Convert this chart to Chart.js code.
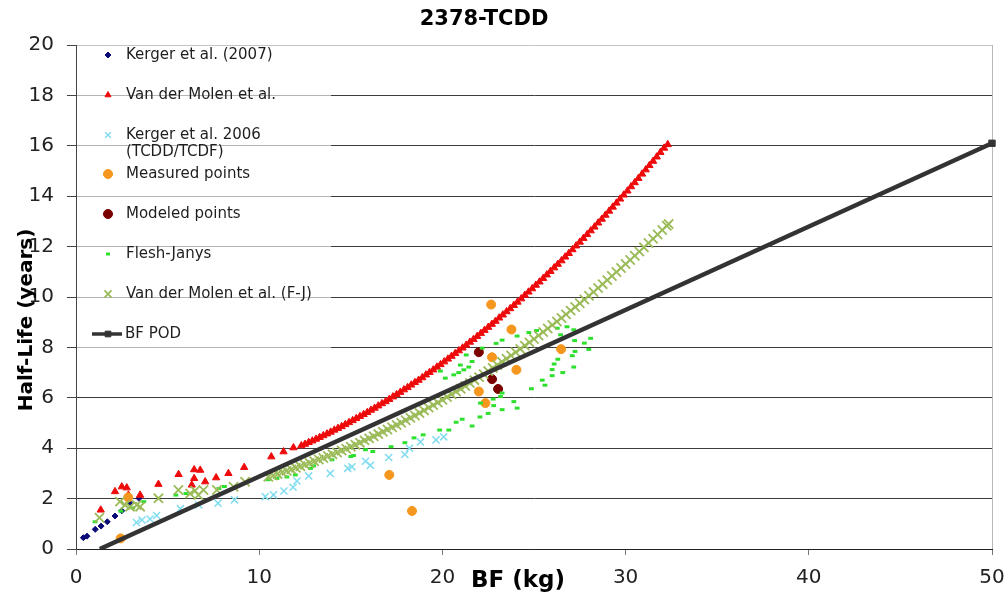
<!DOCTYPE html>
<html>
<head>
<meta charset="utf-8">
<title>2378-TCDD</title>
<script src="https://cdn.jsdelivr.net/npm/chart.js@4.4.1/dist/chart.umd.min.js"></script>
<style>
  html, body { margin: 0; padding: 0; background: #fff; }
  #wrap { position: relative; width: 1006px; height: 601px; }
</style>
</head>
<body>
<div id="wrap"><canvas id="chart"></canvas></div>
<script>
// values, as [BF (kg), half-life (years)]
const kerger2007 = [[0.4,0.45],[0.6,0.51],[1.05,0.78],[1.37,0.91],[1.71,1.08],[2.13,1.31],[2.5,1.52],[2.95,1.81],[3.44,2.01]]

const vanDerMolen = [
    [1.35,1.55],[2.13,2.28],[2.5,2.47],[2.77,2.43],[2.86,2.14],[3.5,2.14],[4.5,2.57],[5.6,2.96],[6.32,2.54],
    [6.45,2.8],[6.45,3.15],[6.78,3.13],[7.05,2.67],[7.65,2.83],[8.32,3.0],[9.18,3.24],[10.66,3.66],[11.33,3.86],[11.87,4.02],
    [12.3,4.10],[12.5,4.16],[12.7,4.23],[12.9,4.29],[13.1,4.36],[13.3,4.43],[13.5,4.50],[13.7,4.57],[13.9,4.64],[14.1,4.72],
    [14.3,4.79],[14.5,4.86],[14.7,4.94],[14.9,5.02],[15.1,5.10],[15.3,5.18],[15.5,5.26],[15.7,5.34],[15.9,5.42],[16.1,5.51],
    [16.3,5.59],[16.5,5.68],[16.7,5.77],[16.9,5.85],[17.1,5.94],[17.3,6.04],[17.5,6.13],[17.7,6.22],[17.9,6.32],[18.1,6.41],
    [18.3,6.51],[18.5,6.61],[18.7,6.70],[18.9,6.80],[19.1,6.91],[19.3,7.01],[19.5,7.11],[19.7,7.22],[19.9,7.32],[20.1,7.43],
    [20.3,7.54],[20.5,7.65],[20.7,7.76],[20.9,7.87],[21.1,7.98],[21.3,8.09],[21.5,8.21],[21.7,8.32],[21.9,8.44],[22.1,8.56],
    [22.3,8.68],[22.5,8.80],[22.7,8.92],[22.9,9.04],[23.1,9.17],[23.3,9.29],[23.5,9.42],[23.7,9.54],[23.9,9.67],[24.1,9.80],
    [24.3,9.93],[24.5,10.07],[24.7,10.20],[24.9,10.33],[25.1,10.47],[25.3,10.60],[25.5,10.74],[25.7,10.88],[25.9,11.02],[26.1,11.16],
    [26.3,11.30],[26.5,11.44],[26.7,11.59],[26.9,11.73],[27.1,11.88],[27.3,12.03],[27.5,12.18],[27.7,12.33],[27.9,12.48],[28.1,12.63],
    [28.3,12.78],[28.5,12.94],[28.7,13.09],[28.9,13.25],[29.1,13.41],[29.3,13.57],[29.5,13.73],[29.7,13.89],[29.9,14.05],[30.1,14.21],
    [30.3,14.38],[30.5,14.54],[30.7,14.71],[30.9,14.88],[31.1,15.05],[31.3,15.22],[31.5,15.39],[31.7,15.56],[31.9,15.74],[32.1,15.91],
    [32.3,16.05]
]

const kerger2006 = [
    [3.3,1.05],[3.6,1.15],[4.04,1.19],[4.4,1.33],[5.7,1.6],[6.7,1.75],[7.75,1.82],[8.65,1.95],[10.33,2.08],[10.78,2.15],
    [11.35,2.3],[11.85,2.45],[12.06,2.7],[12.7,2.9],[13.88,3.0],[14.83,3.2],[15.06,3.26],[15.8,3.48],[16.07,3.32],[17.07,3.63],
    [17.95,3.75],[18.2,4.0],[18.8,4.25],[19.65,4.33],[20.07,4.45]
]

const measured = [[2.44,0.42],[2.85,2.05],[17.1,2.94],[18.34,1.51],[21.99,6.25],[22.35,5.79],[22.66,9.7],[22.71,7.61],[23.77,8.71],[24.04,7.11],[26.48,7.93]]

const modeled = [[21.99,7.81],[22.71,6.74],[23.04,6.35]]

const fleshJanys = [
    [1.04,1.08],[2.45,1.5],[3.1,1.63],[3.7,1.88],[5.45,2.14],[6.0,2.2],[7.8,2.4],[8.1,2.48],[10.5,2.75],[10.97,2.8],
    [11.51,2.86],[11.97,2.94],[12.8,3.2],[12.97,3.3],[13.97,3.54],[15.0,3.67],[15.15,3.71],[15.8,3.94],[16.2,3.87],[17.2,4.06],
    [17.95,4.22],[18.45,4.41],[18.95,4.53],[19.85,4.72],[20.35,4.72],[20.75,5.03],[21.08,5.15],[21.62,4.88],[22.05,5.24],[22.5,5.38],
    [23.26,5.53],[22.8,5.69],[22.77,5.95],[23.17,6.05],[23.9,5.85],[24.08,5.59],[23.26,6.19],[22.08,5.79],
    [19.89,7.06],[20.16,6.78],[20.62,6.91],[20.89,7.0],[20.98,7.3],[21.17,7.11],[21.44,7.22],[21.62,7.44],[21.3,7.7],
    [22.17,7.97],[22.93,8.16],[23.26,8.29],[24.08,8.45],[24.72,8.59],[25.14,8.67],[26.27,8.76],[26.8,8.82],[27.17,8.7],
    [26.45,8.5],[27.22,8.27],[27.75,8.17],[28.09,8.36],[27.99,7.92],[27.24,7.84],[27.09,7.67],[26.3,7.53],[26.1,7.34],
    [25.99,7.12],[26.57,7.0],[27.17,7.22],[25.45,6.7],[25.6,6.5],[24.86,6.36],[25.99,6.88]
]

const vanDerMolenFJ = [
    [1.28,1.24],[2.4,1.88],[2.68,1.75],[2.95,1.68],[3.32,1.75],[3.5,1.68],[4.5,2.01],[5.59,2.34],[6.23,2.2],[6.5,2.31],
    [6.68,2.14],[6.96,2.34],[7.69,2.34],[8.6,2.47],[9.23,2.67],
    [10.5,2.87],[10.75,2.92],[11.0,2.98],[11.25,3.04],[11.5,3.10],[11.75,3.16],[12.0,3.22],[12.25,3.28],[12.5,3.34],[12.75,3.41],
    [13.0,3.48],[13.25,3.55],[13.5,3.61],[13.75,3.69],[14.0,3.76],[14.25,3.83],[14.5,3.91],[14.75,3.98],[15.0,4.06],[15.25,4.14],
    [15.5,4.22],[15.75,4.31],[16.0,4.39],[16.25,4.47],[16.5,4.56],[16.75,4.65],[17.0,4.74],[17.25,4.83],[17.5,4.92],[17.75,5.01],
    [18.0,5.11],[18.25,5.21],[18.5,5.30],[18.75,5.40],[19.0,5.50],[19.25,5.61],[19.5,5.71],[19.75,5.81],[20.0,5.92],[20.25,6.03],
    [20.5,6.14],[20.75,6.25],[21.0,6.36],[21.25,6.47],[21.5,6.59],[21.75,6.70],[22.0,6.82],[22.25,6.94],[22.5,7.06],[22.75,7.18],
    [23.0,7.30],[23.25,7.43],[23.5,7.55],[23.75,7.68],[24.0,7.81],[24.25,7.94],[24.5,8.07],[24.75,8.20],[25.0,8.33],[25.25,8.47],
    [25.5,8.61],[25.75,8.75],[26.0,8.89],[26.25,9.03],[26.5,9.17],[26.75,9.31],[27.0,9.46],[27.25,9.60],[27.5,9.75],[27.75,9.90],
    [28.0,10.05],[28.25,10.20],[28.5,10.36],[28.75,10.51],[29.0,10.67],[29.25,10.83],[29.5,10.99],[29.75,11.15],[30.0,11.31],[30.25,11.47],
    [30.5,11.64],[30.75,11.80],[31.0,11.97],[31.25,12.14],[31.5,12.31],[31.75,12.48],[32.0,12.66],[32.25,12.83],[32.35,12.9]
]

const bfPod = [[1.3,0],[50,16.1]]

const seriesNames = ['Kerger et al. (2007)', 'Van der Molen et al.', ['Kerger et al. 2006', '(TCDD/TCDF)'],
    'Measured points', 'Modeled points', 'Flesh-Janys', 'Van der Molen et al. (F-J)', 'BF POD']

const xRange = [0, 50]
const yRange = [0, 20]
const xStep = 10
const yStep = 2

const chartTitle = '2378-TCDD'
const xTitle = 'BF (kg)'
const yTitle = 'Half-Life (years)'

const FONT = '"DejaVu Sans", Verdana, sans-serif'

const pts = arr => arr.map(p => ({x: p[0], y: p[1]}))

// one marker look per series, reused by the legend
const looks = [
    {style: 'rectRot', r: 3, color: '#0b0b78', width: 1, legendR: 3},
    {style: 'triangle', r: 4.2, color: '#ee0a0a', width: 1, legendR: 3.5},
    {style: 'crossRot', r: 5, color: '#80dcef', width: 1.5, legendR: 4},
    {style: 'circle', r: 4.5, color: '#f5961e', width: 1, legendR: 4.5},
    {style: 'circle', r: 4.5, color: '#7a0000', width: 1, legendR: 4.5},
    {style: 'line', r: 2.4, color: '#2ee02e', width: 3, legendR: 2},
    {style: 'crossRot', r: 6.5, color: '#9bbb59', width: 1.8, legendR: 5},
    {style: 'rect', r: 4.5, color: '#333333', width: 1, legendR: 4}
]

const seriesData = [kerger2007, vanDerMolen, kerger2006, measured, modeled, fleshJanys, vanDerMolenFJ, bfPod]

const datasets = seriesData.map((d, i) => {
    const lk = looks[i]
    const ds = {
        label: Array.isArray(seriesNames[i]) ? seriesNames[i].join(' ') : seriesNames[i],
        data: pts(d),
        showLine: false,
        pointStyle: lk.style,
        pointRadius: lk.r,
        pointBackgroundColor: lk.color,
        pointBorderColor: lk.color,
        pointBorderWidth: lk.width,
        // later series sit on top, like the original
        order: seriesData.length - 1 - i
    }
    if (i == 7){
        ds.showLine = true
        ds.borderColor = '#333333'
        ds.borderWidth = 4.5
        ds.pointRadius = [0, 4.5]
        // let the end marker stick out past the right edge
        ds.clip = {left: 0, top: 0, right: 8, bottom: 0}
    }
    return ds
})

const decorations = {
    id: 'decorations',
    beforeDatasetsDraw(chart){
        const {ctx, chartArea} = chart
        ctx.save()
        // see-through white box behind the legend
        ctx.fillStyle = 'rgba(255,255,255,0.62)'
        ctx.fillRect(chartArea.left + 1, chartArea.top + 1, 254, 306)
        // thin grey frame on the right
        ctx.strokeStyle = '#b8b8b8'
        ctx.lineWidth = 1
        ctx.beginPath()
        ctx.moveTo(Math.round(chartArea.right) + 0.5, chartArea.top)
        ctx.lineTo(Math.round(chartArea.right) + 0.5, chartArea.bottom)
        ctx.stroke()
        ctx.restore()
    },
    afterDraw(chart){
        const ctx = chart.ctx
        const drawPoint = Chart.helpers.drawPoint
        ctx.save()

        // legend
        const rowY = [55, 95, 135, 174, 214, 254, 294, 334]
        const markX = 108
        const textX = 126
        ctx.font = '15px ' + FONT
        ctx.textBaseline = 'middle'
        ctx.textAlign = 'left'
        rowY.forEach((y, i) => {
            const lk = looks[i]
            ctx.fillStyle = lk.color
            ctx.strokeStyle = lk.color
            ctx.lineWidth = lk.width
            if (i == 7){
                ctx.lineWidth = 3.5
                ctx.beginPath()
                ctx.moveTo(92, y)
                ctx.lineTo(122, y)
                ctx.stroke()
                ctx.lineWidth = 1
            }
            drawPoint(ctx, {pointStyle: lk.style, radius: lk.legendR, rotation: 0, borderWidth: lk.width}, markX, y)
            ctx.fillStyle = '#1e1e1e'
            const name = seriesNames[i]
            if (Array.isArray(name)){
                name.forEach((line, k) => ctx.fillText(line, textX, y + k * 17))
            } else {
                ctx.fillText(name, i == 7 ? 125 : textX, y)
            }
        })

        // titles
        ctx.fillStyle = '#000'
        ctx.textAlign = 'center'
        ctx.textBaseline = 'middle'
        ctx.font = 'bold 21px ' + FONT
        ctx.fillText(chartTitle, 484, 20)
        ctx.font = 'bold 23px ' + FONT
        ctx.fillText(xTitle, 518, 581)
        ctx.translate(27, 320)
        ctx.rotate(-Math.PI / 2)
        ctx.font = 'bold 20px ' + FONT
        ctx.fillText(yTitle, 0, 0)
        ctx.restore()
    }
}

Chart.defaults.font.family = FONT

new Chart(document.getElementById('chart'), {
    type: 'scatter',
    data: {datasets: datasets},
    options: {
        responsive: true,
        maintainAspectRatio: false,
        animation: false,
        events: [],
        layout: {padding: {top: 45, right: 14, bottom: 0, left: 0}},
        plugins: {
            legend: {display: false},
            title: {display: false},
            tooltip: {enabled: false}
        },
        scales: {
            x: {
                type: 'linear',
                min: xRange[0],
                max: xRange[1],
                afterFit: s => { s.height = 52; s.paddingLeft = 0; s.paddingRight = 0 },
                ticks: {stepSize: xStep, padding: 11, color: '#222', font: {size: 20}},
                grid: {drawOnChartArea: false, drawTicks: true, tickLength: 6, tickColor: '#777'},
                border: {color: '#222', width: 1}
            },
            y: {
                type: 'linear',
                min: yRange[0],
                max: yRange[1],
                afterFit: s => { s.width = 76; s.paddingTop = 0; s.paddingBottom = 0 },
                ticks: {stepSize: yStep, padding: 13, color: '#222', font: {size: 20}},
                grid: {
                    color: c => c.tick && c.tick.value == yRange[1] ? '#c4c4c4' : '#3c3c3c',
                    tickColor: '#444',
                    tickLength: 9,
                    lineWidth: 1
                },
                border: {color: '#444', width: 1}
            }
        }
    },
    plugins: [decorations]
})
</script>
</body>
</html>
